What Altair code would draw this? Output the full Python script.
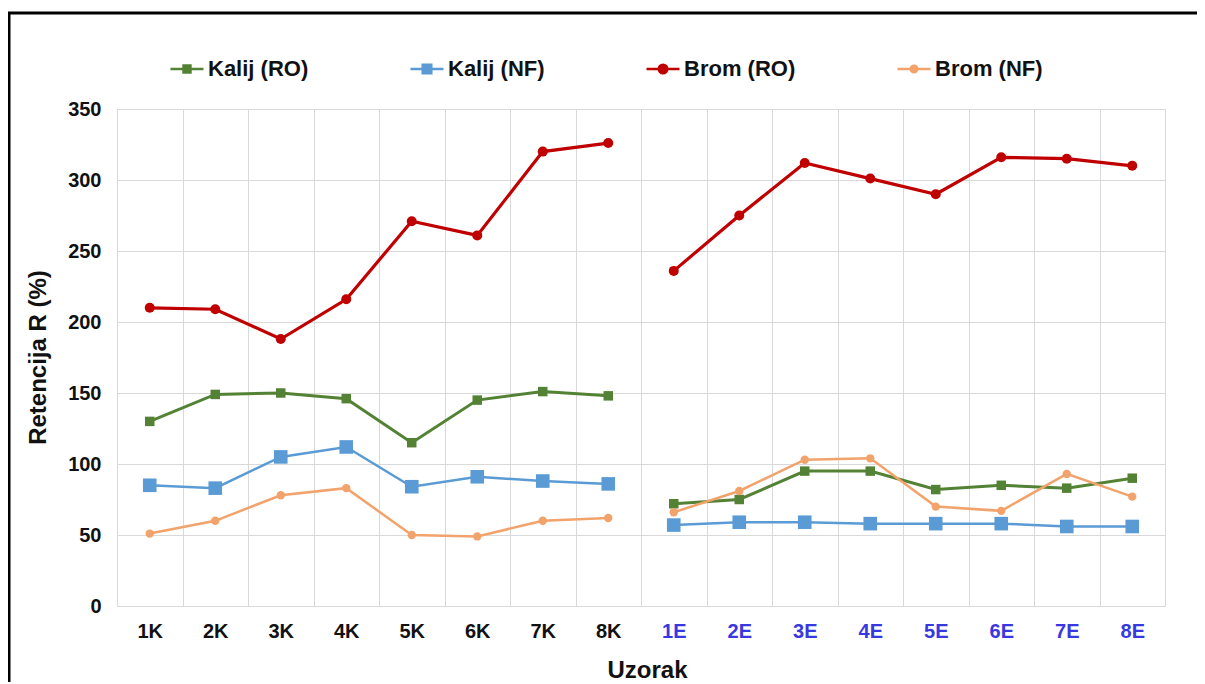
import altair as alt
import pandas as pd

# ---- data ----
samples = ["1K", "2K", "3K", "4K", "5K", "6K", "7K", "8K",
           "1E", "2E", "3E", "4E", "5E", "6E", "7E", "8E"]
groups = ["K"] * 8 + ["E"] * 8
series_names = ["Kalij (RO)", "Kalij (NF)", "Brom (RO)", "Brom (NF)"]
kalij_ro = [130, 149, 150, 146, 115, 145, 151, 148, 72, 75, 95, 95, 82, 85, 83, 90]
kalij_nf = [85, 83, 105, 112, 84, 91, 88, 86, 57, 59, 59, 58, 58, 58, 56, 56]
brom_ro = [210, 209, 188, 216, 271, 261, 320, 326, 236, 275, 312, 301, 290, 316, 315, 310]
brom_nf = [51, 60, 78, 83, 50, 49, 60, 62, 66, 81, 103, 104, 70, 67, 93, 77]
y_ticks = [0, 50, 100, 150, 200, 250, 300, 350]

# ---- styles ----
colors = ["#548235", "#5B9BD5", "#C00000", "#F2A26B"]
line_widths = [3, 2.5, 3.2, 2.5]
marker_shapes = ["square", "square", "circle", "circle"]
marker_sizes = [90, 185, 100, 70]
legend_paths = [
    "M-1,0L1,0M-0.21,-0.21L0.21,-0.21L0.21,0.21L-0.21,0.21Z",
    "M-1,0L1,0M-0.26,-0.26L0.26,-0.26L0.26,0.26L-0.26,0.26Z",
    "M-1,0L1,0M-0.26,0A0.26,0.26 0 1,0 0.26,0A0.26,0.26 0 1,0 -0.26,0Z",
    "M-1,0L1,0M-0.2,0A0.2,0.2 0 1,0 0.2,0A0.2,0.2 0 1,0 -0.2,0Z",
]
FONT = "Liberation Sans"

rows = []
for name, vals in zip(series_names, [kalij_ro, kalij_nf, brom_ro, brom_nf]):
    for s, g, v in zip(samples, groups, vals):
        rows.append({"sample": s, "group": g, "series": name, "value": v})
df = pd.DataFrame(rows)

x_enc = alt.X(
    "sample:N", sort=samples, bandPosition=0.5,
    scale=alt.Scale(type="band", domain=samples, paddingInner=0, paddingOuter=0),
    axis=alt.Axis(
        title="Uzorak", labelAngle=0, grid=True, tickBand="extent",
        gridColor="#d9d9d9", gridWidth=1, ticks=False, tickSize=0,
        domainColor="#d9d9d9", labelFont=FONT, labelFontSize=20,
        labelFontWeight="bold", labelPadding=15,
        labelColor={"expr": "test(/E/, datum.label) ? '#3838E0' : '#111111'"},
        titleFont=FONT, titleFontSize=24, titleFontWeight="bold",
        titleColor="#111111", titleX=530, titleY=52, titleBaseline="top",
    ),
)
y_enc = alt.Y(
    "value:Q",
    scale=alt.Scale(domain=[0, 350], nice=False),
    axis=alt.Axis(
        title="Retencija R (%)", values=y_ticks, grid=True,
        gridColor="#d9d9d9", gridWidth=1, ticks=False, tickSize=0,
        domain=False, labelFont=FONT, labelFontSize=20,
        labelFontWeight="bold", labelColor="#111111", labelPadding=16,
        titleFont=FONT, titleFontSize=24, titleFontWeight="bold",
        titleColor="#111111", titleX=-67, titleY=248, titleBaseline="bottom",
    ),
)

base = alt.Chart(df).encode(x=x_enc, y=y_enc)

layers = []
for i, name in enumerate(series_names):
    sub = base.transform_filter(alt.datum.series == name)
    layers.append(sub.mark_line(color=colors[i], strokeWidth=line_widths[i]).encode(detail="group:N"))
for i, name in enumerate(series_names):
    sub = base.transform_filter(alt.datum.series == name)
    layers.append(sub.mark_point(shape=marker_shapes[i], filled=True, opacity=1,
                                 size=marker_sizes[i], color=colors[i], strokeWidth=0))

leg = alt.Legend(
    title=None, orient="none", legendX=52, legendY=-58, direction="horizontal",
    symbolSize=1089, symbolStrokeWidth=2.5, symbolOpacity=1,
    labelFont=FONT, labelFontSize=22, labelFontWeight="bold", labelColor="#111111",
    labelOffset=3, columnPadding=96,
)
carrier = base.mark_point(filled=True, opacity=0, strokeWidth=2.5).encode(
    fill=alt.Fill("series:N", scale=alt.Scale(domain=series_names, range=colors), legend=leg),
    stroke=alt.Stroke("series:N", scale=alt.Scale(domain=series_names, range=colors), legend=leg),
    shape=alt.Shape("series:N", scale=alt.Scale(domain=series_names, range=legend_paths), legend=leg),
)
layers.append(carrier)

frame_src = alt.Chart(pd.DataFrame({"f": [0]}))
layers.append(frame_src.mark_rule(color="black", strokeWidth=3).encode(
    x=alt.value(-108), y=alt.value(-97), y2=alt.value(590)))
layers.append(frame_src.mark_rule(color="black", strokeWidth=3).encode(
    x=alt.value(-109), x2=alt.value(1100), y=alt.value(-96)))

chart = alt.layer(*layers).properties(
    width=1048, height=497,
    autosize=alt.AutoSizeParams(type="none"),
    padding={"left": 109, "top": 101, "right": 32, "bottom": 76},
    background="white",
).configure_view(stroke="#d9d9d9", strokeWidth=1)

chart.save("out.html", embed_options={"renderer": "svg", "actions": False})
